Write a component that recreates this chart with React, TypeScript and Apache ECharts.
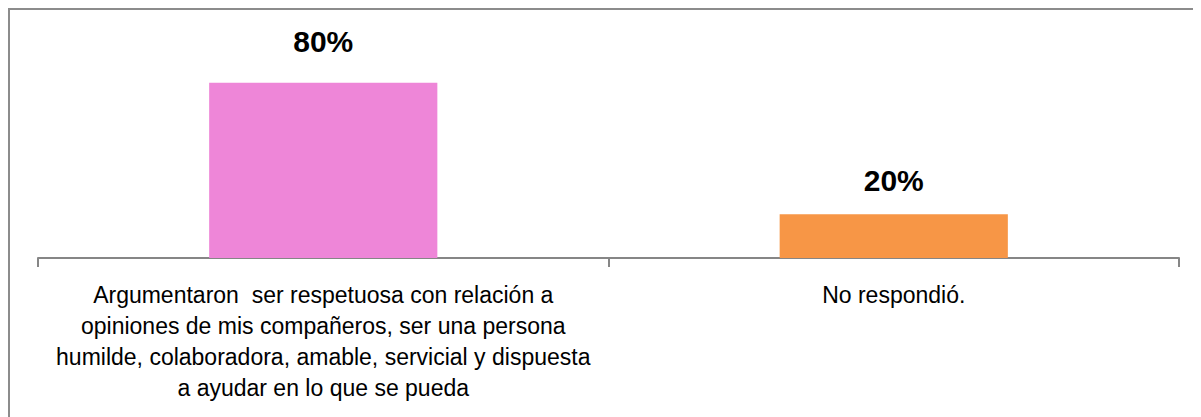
import React, { useEffect, useRef } from "react";
import * as echarts from "echarts";

const categories: string[] = [
  "Argumentaron  ser respetuosa con relación a\nopiniones de mis compañeros, ser una persona\nhumilde, colaboradora, amable, servicial y dispuesta\na ayudar en lo que se pueda",
  "No respondió.",
];
const values: number[] = [80, 20];
const barColors: string[] = ["#EE86D8", "#F79646"];
const labelDistances: number[] = [26, 19];

export default function App() {
  const ref = useRef<HTMLDivElement>(null);
  useEffect(() => {
    if (!ref.current) return;
    const chart = echarts.init(ref.current, null, { renderer: "svg" });
    chart.setOption({
      animation: false,
      backgroundColor: "#ffffff",
      grid: { left: 28, right: 22, top: 29, bottom: 159 },
      xAxis: {
        type: "category",
        data: categories,
        axisLine: { show: true, lineStyle: { color: "#868686", width: 2 } },
        axisTick: { show: true, length: 9, lineStyle: { color: "#868686", width: 2 } },
        axisLabel: {
          interval: 0,
          margin: 21,
          fontSize: 23,
          lineHeight: 31,
          color: "#000000",
          fontFamily: "Liberation Sans, Arial, sans-serif",
          align: "center",
        },
      },
      yAxis: {
        type: "value",
        min: 0,
        max: 100,
        show: false,
        splitLine: { show: false },
      },
      series: [
        {
          type: "bar",
          barWidth: "40%",
          data: values.map((v, i) => ({
            value: v,
            itemStyle: { color: barColors[i] },
            label: { distance: labelDistances[i] },
          })),
          label: {
            show: true,
            position: "top",
            formatter: "{c}%",
            fontSize: 30,
            fontWeight: "bold",
            color: "#000000",
            fontFamily: "Liberation Sans, Arial, sans-serif",
          },
        },
      ],
    });
    return () => chart.dispose();
  }, []);
  return (
    <div
      ref={ref}
      style={{
        width: 1193,
        height: 409,
        boxSizing: "border-box",
        borderTop: "2px solid #8c8c8c",
        borderLeft: "2px solid #8c8c8c",
      }}
    />
  );
}
